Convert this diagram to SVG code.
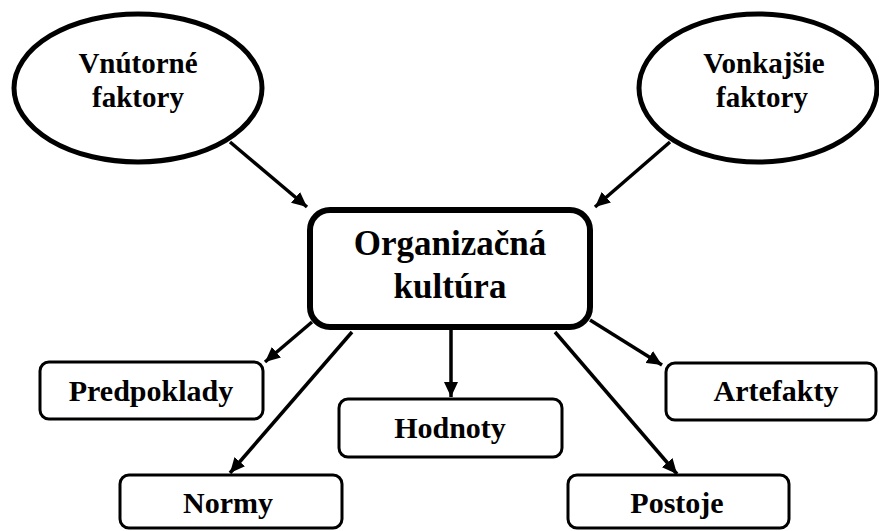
<svg xmlns="http://www.w3.org/2000/svg" width="879" height="531" viewBox="0 0 879 531">
<defs>
<style>
text{font-family:'Liberation Serif','Times New Roman',serif;font-weight:700;fill:#000;text-anchor:middle}
.ell{fill:#fff;stroke:#000;stroke-width:5}
.main{fill:#fff;stroke:#000;stroke-width:6}
.box{fill:#fff;stroke:#000;stroke-width:3}
.conn line{stroke:#000;stroke-width:3.5;marker-end:url(#arr)}
.t1{font-size:29px}
.t2{font-size:35px}
.t3{font-size:30px}
</style>
<marker id="arr" markerUnits="userSpaceOnUse" markerWidth="15" markerHeight="14" refX="15" refY="7" orient="auto">
<path d="M0,0 L15,7 L0,14 z" fill="#000"/>
</marker>
</defs>
<rect width="879" height="531" fill="#fff"/>
<g class="conn" id="connectors">
<line x1="230" y1="142" x2="307" y2="207"/>
<line x1="670" y1="142" x2="595" y2="207"/>
<line x1="312" y1="322" x2="265" y2="362"/>
<line x1="352" y1="332" x2="230" y2="473"/>
<line x1="451" y1="330" x2="451" y2="397"/>
<line x1="555" y1="332" x2="677" y2="474"/>
<line x1="590" y1="320" x2="662" y2="365"/>
</g>
<g id="vnutorne">
<ellipse class="ell" cx="138" cy="88" rx="124" ry="74"/>
<text class="t1" x="138" y="73">Vnútorné</text>
<text class="t1" x="138" y="107">faktory</text>
</g>
<g id="vonkajsie">
<ellipse class="ell" cx="758" cy="88" rx="119" ry="74"/>
<text class="t1" x="764" y="73">Vonkajšie</text>
<text class="t1" x="762" y="107">faktory</text>
</g>
<g id="kultura">
<rect class="main" x="310" y="210" width="280" height="117" rx="20"/>
<text class="t2" x="450" y="255">Organizačná</text>
<text class="t2" x="450" y="298">kultúra</text>
</g>
<g id="predpoklady">
<rect class="box" x="40" y="362" width="223" height="57" rx="9"/>
<text class="t3" x="151" y="401">Predpoklady</text>
</g>
<g id="hodnoty">
<rect class="box" x="339" y="399" width="223" height="58" rx="9"/>
<text class="t3" x="450" y="438">Hodnoty</text>
</g>
<g id="artefakty">
<rect class="box" x="666" y="363" width="210" height="57" rx="9"/>
<text class="t3" x="776" y="401">Artefakty</text>
</g>
<g id="normy">
<rect class="box" x="120" y="475" width="222" height="53" rx="9"/>
<text class="t3" x="228" y="513">Normy</text>
</g>
<g id="postoje">
<rect class="box" x="568" y="475" width="221" height="53" rx="9"/>
<text class="t3" x="677" y="513">Postoje</text>
</g>
</svg>
